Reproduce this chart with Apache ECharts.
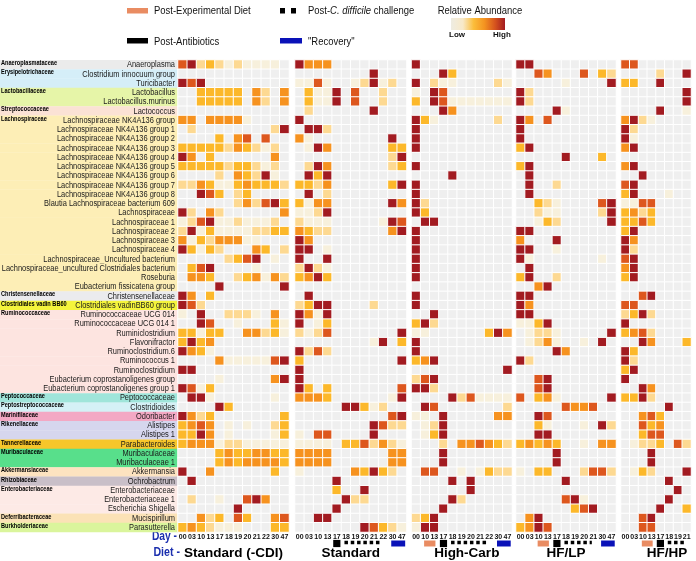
<!DOCTYPE html>
<html><head><meta charset="utf-8">
<script src="https://cdn.jsdelivr.net/npm/echarts@6/dist/echarts.min.js"></script>
<style>html,body{margin:0;padding:0;background:#fff}#c{width:696px;height:561px}</style>
</head><body><div id="c"></div>
<script>
// ---------------- DATA ----------------
const rowNames = ['Anaeroplasma','Clostridium innocuum group','Turicibacter','Lactobacillus','Lactobacillus.murinus','Lactococcus',
'Lachnospiraceae NK4A136 group','Lachnospiraceae NK4A136 group 1','Lachnospiraceae NK4A136 group 2','Lachnospiraceae NK4A136 group 3',
'Lachnospiraceae NK4A136 group 4','Lachnospiraceae NK4A136 group 5','Lachnospiraceae NK4A136 group 6','Lachnospiraceae NK4A136 group 7',
'Lachnospiraceae NK4A136 group 8','Blautia Lachnospiraceae bacterium 609','Lachnospiraceae','Lachnospiraceae 1','Lachnospiraceae 2',
'Lachnospiraceae 3','Lachnospiraceae 4','Lachnospiraceae_Uncultured bacterium','Lachnospiraceae_uncultured Clostridiales bacterium',
'Roseburia','Eubacterium fissicatena group','Christensenellaceae','Clostridiales vadinBB60 group','Ruminococcaceae UCG 014',
'Ruminococcaceae UCG 014 1','Ruminiclostridium','Flavonifractor','Ruminoclostridium.6','Ruminococcus 1','Ruminoclostridium',
'Eubacterium coprostanoligenes group','Eubacterium coprostanoligenes group 1','Peptococcaceae','Clostridioides','Odoribacter',
'Alistipes','Alistipes 1','Parabacteroides','Muribaculaceae','Muribaculaceae 1','Akkermansia','Ochrobactrum','Enterobacteriaceae',
'Enterobacteriaceae 1','Escherichia Shigella','Mucispirillum','Parasutterella'];

const familyNames = ['Anaeroplasmataceae','Erysipelotrichaceae','Lactobacillaceae','Streptococcaceae','Lachnospiraceae',
'Christensenellaceae','Clostridiales vadin BB60','Ruminococcaceae','Peptococcaceae','Peptostreptococcaceae','Marinifilaceae',
'Rikenellaceae','Tannerellaceae','Muribaculaceae','Akkermansiaceae','Rhizobiaceae','Enterobacteriaceae','Deferribacteraceae','Burkholderiaceae'];
const familyRowCounts = [1,2,2,1,19,1,1,9,1,1,1,2,1,2,1,1,3,1,1];

const panelTitles = ['Standard (-CDI)','Standard','High-Carb','HF/LP','HF/HP'];
const daysStdCDI = ['00','03','10','13','17','18','19','20','21','22','30','47'];
const daysStd    = ['00','03','10','13','17','18','19','20','21','22','30','47'];
const daysHC     = ['00','10','13','17','18','19','20','21','22','30','47'];
const daysLP     = ['00','03','10','13','17','18','19','20','21','30','47'];
const daysHP     = ['00','03','10','13','17','18','19','21'];

// abundance level per row (0 = none ... 6 = high), one digit per day
const valsStdCDI = ['562321211110','000000000000','656000000000','003333304204','003333304204','000000000000','440444410000',
'020000000026','000030450500','333332432120','640300000040','333332332120','000020432610','224311343332','006530230000',
'000000242563','620420000004','125611211120','261311112233','413244411000','631320004302','000002356010','035600001000',
'044300234142','000060000006','640300000000','652000000000','106002221040','006500100031','331330044231','363400000000',
'643100000000','000041111156','660000000000','000010000046','651300000000','066100000010','000063000000','642300000003',
'345401010023','336401000013','344412211111','000034334433','000034344443','600400000030','060000000000','000000000000',
'020010056400','000000600000','004230530045','343211100033'];
const valsStd = ['644400000000','000000006000','115100126120','031160500200','031160500200','020000006000','600000000000',
'066200000000','410000000060','016400000033','000000000026','026400000023','063600000000','332400000036','060200000000',
'314400000064','112600000000','211100000165','432200000046','640000000000','660100000000','600600000000','262100000000',
'346300000000','000000000000','060000000000','236600002000','641600000000','601300000000','212500000006','000000001603',
'625200000000','300000000006','600000000000','600000000000','630300000005','444300000016','000006631200','000000000056',
'000000006522','105500006000','111103352421','444400000044','444400000044','100000436320','000060000000','000030060000',
'000006220000','000060000000','006600000000','000000065321'];
const valsHC = ['60000000000','00063000000','60211000021','10650000000','30651111111','00064000000','63100000020',
'60000000000','60000000000','60000000000','00000000000','60000000000','00006000000','60000000000','60000000000',
'62000000000','63000000000','06600000000','60000000000','60000000000','60000000000','60000000000','60000000000',
'60000000000','00000000000','60000000000','60000000000','00600000000','36200000000','11000000364','60000000000',
'60000000000','34600000000','00000000006','25600000000','66200000000','00006251111','06500000002','11060000044',
'01260000000','01360000000','00020445432','00060000000','00060000000','05500101322','00006060000','00000060000',
'00006200000','00060000000','23600000000','16600000000'];
const valsLP = ['66000000000','00540005032','00000100006','62000000000','62000000000','00006100000','64050000000',
'60000000000','60000000000','36000000000','00000600030','36000000000','06000000000','06002000000','06000000000',
'00321000056','00211000026','00132000006','66000000000','40006000000','66001000000','61000000010','06000000000',
'36002000000','00460000000','66000000000','64000000000','66000000000','11360000000','01221000006','01241001060',
'00006400000','62000000000','00000000000','00560000000','00560000000','50341000006','00000544500','00650000000',
'00310001062','00660000000','34343001044','00006000000','00006000000','10330002552','00000600000','00000000000',
'00000561000','00000035600','04600000000','34650000000'];
const valsHP = ['55000000','00002006','33006000','00000006','00000006','00006001','46210000','62000000','61000000',
'46000000','00000000','46000000','00600000','56000000','36000100','11550000','34230000','33530000','36000000',
'64000000','62000000','56000000','46000000','36000000','00000000','00560000','55000000','23620000','60000000',
'34520000','00640003','63000000','62000000','36000000','60000000','00640000','33620000','00000600','00453000',
'00534000','00355000','01223052','00060000','00060000','01320006','00000600','00000060','00000600','00006003',
'00560000','00550000'];

// treatment markers under the day axis: [type, first day, last day]
const markersStdCDI = [];
const markersStd = [['abx','17','17'],['cdi','18','22'],['rec','30','47']];
const markersHC  = [['diet','10','13'],['abx','17','17'],['cdi','18','22'],['rec','30','47']];
const markersLP  = [['diet','10','13'],['abx','17','17'],['cdi','18','21'],['rec','30','47']];
const markersHP  = [['diet','10','13'],['abx','17','17'],['cdi','18','21']];

// ---------------- STYLE ----------------
const SANS = '"Liberation Sans",Arial,sans-serif';
const levelColors = ['#efefef','#f7f0dc','#fdd992','#fcb82a','#f6921f','#dd571e','#a21b21'];
const familyColors = ['#ebebeb','#d5eef8','#e6f5a8','#fbe2d5','#fdeeb6','#ebebee','#f4f43c','#fde4e0','#9fe5da',
'#d4f1f6','#f3a8c4','#d6d6ee','#f7c62a','#58df8b','#fde3c0','#c9bfc8','#fdeae6','#fbe2b6','#daf59c'];
const markerColors = {diet:'#e98c62', abx:'#000000', cdi:'#000000', rec:'#0a12b8'};

const grids = [
  {left:0, top:60, width:178, height:472},
  {left:178, top:60, width:111, height:472},
  {left:295, top:60, width:111.5, height:472},
  {left:411.5, top:60, width:100.5, height:472},
  {left:516, top:60, width:100, height:472},
  {left:621, top:60, width:70, height:472}
].map(g => Object.assign({outerBoundsMode:'none', containLabel:false}, g));

const panelDays = [daysStdCDI, daysStd, daysHC, daysLP, daysHP];
const panelVals = [valsStdCDI, valsStd, valsHC, valsLP, valsHP];
const panelMarkers = [markersStdCDI, markersStd, markersHC, markersLP, markersHP];
const titlePad = [[0,0,0,0],[0,0,0,0],[0,0,0,10],[0,0,0,0],[0,0,0,22]];

const rowFam = [], rowFirst = [];
familyRowCounts.forEach((n, f) => { for (let k = 0; k < n; k++) { rowFam.push(f); rowFirst.push(k === 0 ? 1 : 0); } });

const xAxes = [{gridIndex:0, type:'value', min:0, max:1, show:false}];
const yAxes = [{gridIndex:0, type:'category', data:rowNames, inverse:true, show:false}];
const series = [{
  type:'custom', xAxisIndex:0, yAxisIndex:0, z:1, silent:true,
  data: rowNames.map((n, r) => [0, r, rowFam[r], rowFirst[r]]),
  encode:{x:0, y:1},
  renderItem: function (params, api) {
    const r = api.value(1), f = api.value(2), first = api.value(3);
    const a = api.coord([0, r]), b = api.coord([1, r]);
    const h = api.size([0, 1])[1];
    const ch = [{type:'rect', shape:{x:a[0], y:a[1]-h/2, width:b[0]-a[0], height:h+0.3}, style:{fill:familyColors[f]}}];
    ch.push({type:'text', x:b[0]-3, y:a[1]+0.3, scaleX:0.89,
      style:{text:rowNames[r], x:0, y:0, align:'right', verticalAlign:'middle', font:'8.4px ' + SANS, fill:'#1a1a1a'}});
    if (first) ch.push({type:'text', x:1, y:a[1]-1.5, scaleX:0.8,
      style:{text:familyNames[f], x:0, y:0, verticalAlign:'middle', align:'left', font:'bold 7px ' + SANS, fill:'#000'}});
    return {type:'group', children:ch};
  }
}];

panelDays.forEach((days, p) => {
  const gi = p + 1;
  xAxes.push({gridIndex:gi, type:'category', data:days, position:'bottom',
    axisLine:{show:false}, axisTick:{show:false}, splitLine:{show:false},
    axisLabel:{interval:0, fontSize:7, fontWeight:'bold', color:'#111', margin:1.5, fontFamily:SANS},
    name:panelTitles[p], nameLocation:'middle', nameGap:14,
    nameTextStyle:{fontSize:13.5, fontWeight:'bold', color:'#000', fontFamily:SANS, padding:titlePad[p], verticalAlign:'top'}});
  yAxes.push({gridIndex:gi, type:'category', data:rowNames, inverse:true,
    axisLine:{show:false}, axisTick:{show:false}, splitLine:{show:false}, axisLabel:{show:false}});
  const data = [];
  panelVals[p].forEach((s, r) => { s.split('').forEach((ch, c) => data.push([c, r, Number(ch)])); });
  series.push({type:'heatmap', xAxisIndex:gi, yAxisIndex:gi, data:data, silent:true,
    itemStyle:{borderColor:'#ffffff', borderWidth:1}, emphasis:{disabled:true}});
});

panelMarkers.forEach((mk, p) => {
  const gi = p + 1, days = panelDays[p];
  series.push({type:'custom', xAxisIndex:gi, yAxisIndex:gi, clip:false, silent:true, z:5,
    data: mk.map(m => [days.indexOf(m[1]), rowNames.length - 1, days.indexOf(m[2]), ['diet','abx','cdi','rec'].indexOf(m[0])]),
    encode:{x:[0,2], y:1},
    renderItem: function (params, api) {
      const i0 = api.value(0), r = api.value(1), i1 = api.value(2), t = ['diet','abx','cdi','rec'][api.value(3)];
      const a = api.coord([i0, r]), b = api.coord([i1, r]);
      const w = api.size([1, 0])[0], h = api.size([0, 1])[1];
      const yc = a[1] + h/2 + 11.5;
      if (t === 'abx') return {type:'rect', shape:{x:a[0]-3.6, y:yc-3.6, width:7.2, height:7.2}, style:{fill:markerColors.abx}};
      if (t === 'diet') { const cx = (a[0]+b[0])/2; return {type:'rect', shape:{x:cx-w*0.62, y:yc-3, width:w*1.24, height:6}, style:{fill:markerColors.diet}}; }
      if (t === 'rec') { const cx = (a[0]+b[0])/2 + 1; return {type:'rect', shape:{x:cx-w*0.75, y:yc-3, width:w*1.5, height:6}, style:{fill:markerColors.rec}}; }
      return {type:'line', shape:{x1:a[0]-w/2+3, y1:yc-1, x2:b[0]+w/2-6, y2:yc-1},
        style:{stroke:markerColors.cdi, lineWidth:3.5, lineDash:[3.5,2.8]}};
    }
  });
});

function T(text, x, y, font, sx, extra) {
  return {type:'text', x:x, y:y, scaleX:sx,
    style:Object.assign({text:text, x:0, y:0, verticalAlign:'middle', align:'left', font:font, fill:'#111'}, extra || {})};
}
const LF = '11px ' + SANS;
const graphic = [
  {type:'rect', shape:{x:127, y:8, width:21, height:5.5}, style:{fill:markerColors.diet}},
  T('Post-Experimental Diet', 154, 10.8, LF, 0.86),
  {type:'rect', shape:{x:127, y:38, width:21, height:5.5}, style:{fill:'#000'}},
  T('Post-Antibiotics', 154, 41.5, LF, 0.86),
  {type:'rect', shape:{x:280, y:8, width:5, height:5.5}, style:{fill:'#000'}},
  {type:'rect', shape:{x:291, y:8, width:5, height:5.5}, style:{fill:'#000'}},
  {type:'text', x:308, y:10.8, scaleX:0.86, style:{text:'{a|Post-}{i|C. difficile}{a| challenge}', x:0, y:0, verticalAlign:'middle',
    rich:{a:{font:LF, fill:'#111'}, i:{font:'italic ' + LF, fill:'#111'}}}},
  {type:'rect', shape:{x:280, y:38, width:22, height:5.5}, style:{fill:markerColors.rec}},
  T('"Recovery"', 308, 41.5, LF, 0.86),
  T('Relative Abundance', 480, 10.5, LF, 0.86, {align:'center'}),
  {type:'rect', shape:{x:451, y:18, width:54, height:12}, style:{fill:new echarts.graphic.LinearGradient(0,0,1,0,[
    {offset:0, color:'#eeece2'},{offset:0.22, color:'#f8e9c8'},{offset:0.42, color:'#fbbd3a'},{offset:0.62, color:'#f49320'},
    {offset:0.82, color:'#d5521e'},{offset:1, color:'#a21b21'}])}},
  T('Low', 449, 34.5, 'bold 8px ' + SANS, 1),
  T('High', 493, 34.5, 'bold 8px ' + SANS, 1),
  T('Day -', 177, 537, 'bold 12.5px ' + SANS, 0.82, {align:'right', fill:'#1b2fae'}),
  T('Diet -', 180, 553, 'bold 12.5px ' + SANS, 0.85, {align:'right', fill:'#1b2fae'})
];

const chart = echarts.init(document.getElementById('c'), null, {renderer:'canvas'});
chart.setOption({
  animation:false,
  backgroundColor:'#ffffff',
  grid:grids, xAxis:xAxes, yAxis:yAxes, series:series, graphic:graphic,
  visualMap:{type:'piecewise', show:false, seriesIndex:[1,2,3,4,5], dimension:2,
    pieces: levelColors.map((c, k) => ({value:k, color:c}))}
});
</script></body></html>
